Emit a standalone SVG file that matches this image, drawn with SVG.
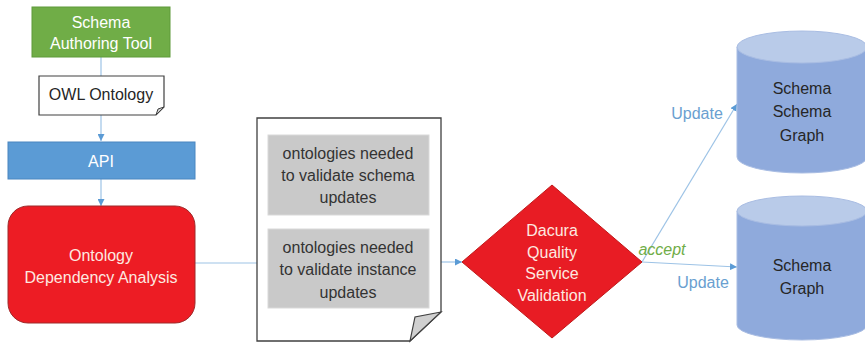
<svg xmlns="http://www.w3.org/2000/svg" width="865" height="343" viewBox="0 0 865 343">
<defs>
<marker id="arr" viewBox="0 0 10 10" refX="10" refY="5" markerWidth="7" markerHeight="7" markerUnits="userSpaceOnUse" orient="auto">
<path d="M0,0 L10,5 L0,10 Z" fill="#5b9bd5"/>
</marker>
<style>
text{font-family:"Liberation Sans",Arial,sans-serif;font-size:16px;text-anchor:middle;dominant-baseline:central}
.w{fill:#ffffff}
.lw{fill:#fde9e0}
.k{fill:#262626}
.g{fill:#333333}
.conn{stroke:#9dc3e6;stroke-width:1.2;fill:none}
.lbl{fill:#6a9fd0}
.cylb{fill:#8faadc;stroke:#a9bde3;stroke-width:1}
.cylt{fill:#b9cbe9;stroke:#a9bde3;stroke-width:1}
.gray{fill:#c9c9c9;stroke:#d9d9d9;stroke-width:1}
</style>
</defs>
<rect width="865" height="343" fill="#ffffff"/>
<g id="connectors">
<line class="conn" x1="101" y1="57" x2="101" y2="141" marker-end="url(#arr)"/>
<line class="conn" x1="101" y1="179" x2="101" y2="206" marker-end="url(#arr)"/>
<line class="conn" x1="195" y1="263" x2="257" y2="263"/>
<line class="conn" x1="441" y1="262" x2="462" y2="262" marker-end="url(#arr)"/>
<line class="conn" x1="642" y1="262" x2="737" y2="104" marker-end="url(#arr)"/>
<line class="conn" x1="642" y1="262" x2="737" y2="267" marker-end="url(#arr)"/>
<text class="lbl" x="697" y="113">Update</text>
<text class="lbl" x="703" y="282">Update</text>
<text x="662" y="249" fill="#70ad47" font-style="italic">accept</text>
</g>
<g id="authoring-tool">
<rect x="32" y="7" width="138" height="50" fill="#70ad47" stroke="#5f9a3b" stroke-width="1"/>
<text class="w" x="101" y="22">Schema</text>
<text class="w" x="101" y="43">Authoring Tool</text>
</g>
<g id="owl-ontology">
<path d="M39,76 H164 V107 L156,115 H39 Z" fill="#ffffff" stroke="#404040" stroke-width="1.2"/>
<path d="M164,107 L158,109 L156,115 Z" fill="#d0d0d0" stroke="#404040" stroke-width="1"/>
<text class="k" x="101" y="94">OWL Ontology</text>
</g>
<g id="api">
<rect x="8" y="142" width="187" height="37" fill="#5b9bd5" stroke="#4a86c0" stroke-width="1"/>
<text class="w" x="101" y="161">API</text>
</g>
<g id="dependency-analysis">
<rect x="8" y="206" width="187" height="117" rx="20" ry="20" fill="#ed1c24" stroke="#9e2a2a" stroke-width="1"/>
<text class="lw" x="101" y="255">Ontology</text>
<text class="lw" x="101" y="277">Dependency Analysis</text>
</g>
<g id="ontology-document">
<path d="M257,118 H441 V312 L410,341 H257 Z" fill="#ffffff" stroke="#404040" stroke-width="1.3"/>
<path d="M441,312 L415,317 L410,341 Z" fill="#d0d0d0" stroke="#404040" stroke-width="1.2"/>
<rect class="gray" x="268" y="135" width="161" height="80"/>
<text class="g" x="348" y="153">ontologies needed</text>
<text class="g" x="348" y="175">to validate schema</text>
<text class="g" x="348" y="197">updates</text>
<rect class="gray" x="268" y="229" width="161" height="79"/>
<text class="g" x="348" y="247">ontologies needed</text>
<text class="g" x="348" y="269">to validate instance</text>
<text class="g" x="348" y="292">updates</text>
</g>
<g id="validation">
<polygon points="552,185 642,262 552,338 462,262" fill="#e81c24" stroke="#c01818" stroke-width="1"/>
<text class="lw" x="552" y="230">Dacura</text>
<text class="lw" x="552" y="252">Quality</text>
<text class="lw" x="552" y="273">Service</text>
<text class="lw" x="552" y="295">Validation</text>
</g>
<g id="schema-schema-graph">
<path class="cylb" d="M737,47 V157 A65,16 0 0 0 867,157 V47 Z"/>
<ellipse class="cylt" cx="802" cy="47" rx="65" ry="16"/>
<text class="k" x="802" y="88" font-size="17">Schema</text>
<text class="k" x="802" y="111" font-size="17">Schema</text>
<text class="k" x="802" y="135" font-size="17">Graph</text>
</g>
<g id="schema-graph">
<path class="cylb" d="M737,211 V325 A65,15 0 0 0 867,325 V211 Z"/>
<ellipse class="cylt" cx="802" cy="211" rx="65" ry="15"/>
<text class="k" x="802" y="265" font-size="17">Schema</text>
<text class="k" x="802" y="288" font-size="17">Graph</text>
</g>
</svg>
